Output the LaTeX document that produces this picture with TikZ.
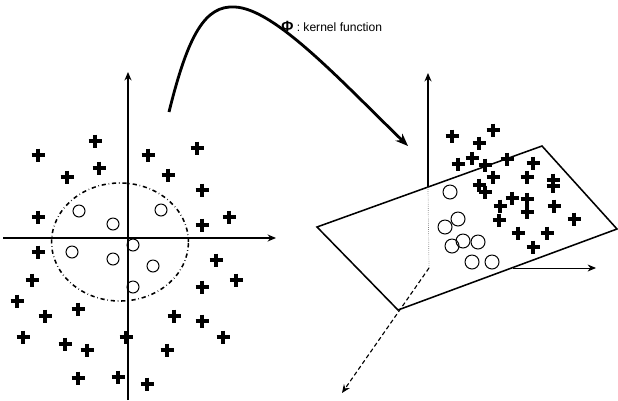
\documentclass[tikz,border=0pt]{standalone}
\usepackage{fontspec}
\setmainfont{Liberation Sans}
\usepackage{tikz}
\usetikzlibrary{arrows,arrows.meta,positioning,calc,shapes.geometric}
\tikzstyle{axis} = [line width=0.8pt,-{Stealth[length=6pt,width=5pt]}]
\tikzstyle{plusmark} = [line width=2.4pt]
\tikzstyle{ringmark} = [line width=0.7pt]
\tikzstyle{kernelarrow} = [line width=2pt,-{Stealth[length=9pt,width=7pt]}]
\newcommand{\plusat}[2]{\draw[plusmark] (#1-6.5,#2) -- (#1+6.5,#2) (#1,#2-6.5) -- (#1,#2+6.5);}

\begin{document}
\begin{tikzpicture}[x=0.025cm, y=-0.025cm]
    \useasboundingbox (0,0) rectangle (618,401);

    % Input space axes
    \coordinate (xl) at (3,238);
    \coordinate (xr) at (276,238);
    \coordinate (yb) at (128,400);
    \coordinate (yt) at (128,72);
    \draw[axis] (xl) -- (xr);
    \draw[axis] (yb) -- (yt);

    % Boundary
    \node[draw, dash dot, line width=1.1pt, ellipse, minimum width=3.42cm, minimum height=2.95cm, inner sep=0pt] (bound) at (120,242) {};

    % Class +1
    \foreach \px/\py in {95/141, 38/155, 148/155, 197/148, 67/177, 99/168, 168/175, 202/190,
        38/217, 202/225, 229/217, 38/252, 216/260, 32/280, 236/280, 17/301, 202/287,
        78/309, 45/316, 174/316, 202/321, 23/337, 126/337, 223/337, 65/344, 87/350,
        167/350, 78/378, 118/377, 147/384}
        {\plusat{\px}{\py}}

    % Class -1
    \foreach \px/\py in {79/211, 161/210, 113/224, 133/245, 72/252, 113/259, 153/266, 133/287}
        \draw[ringmark] (\px,\py) circle (6);

    % Feature space
    \coordinate (p1) at (317,227);
    \coordinate (p2) at (542,146);
    \coordinate (p3) at (617,229);
    \coordinate (p4) at (398,310);
    \draw[line width=1.1pt] (p1) -- (p2) -- (p3) -- (p4) -- cycle;

    \coordinate (zb) at (428,187);
    \coordinate (zt) at (428,73);
    \coordinate (o3) at (429,268);
    \coordinate (xe) at (342,393);
    \coordinate (ys) at (513,268);
    \coordinate (ye) at (596,268);
    \draw[axis] (zb) -- (zt);
    \draw[densely dotted, line width=0.5pt, gray] (zb) -- (o3);
    \draw[axis, densely dashed] (o3) -- (xe);
    \draw[axis, line width=0.6pt] (ys) -- (ye);

    \foreach \px/\py in {452/136, 493/130, 479/143, 458/164, 472/158, 485/165, 507/159,
        533/163, 493/177, 479/185, 485/192, 527/177, 553/180, 553/186, 512/198, 527/199,
        500/206, 527/212, 499/220, 554/206, 574/219, 518/233, 547/233, 533/247}
        {\plusat{\px}{\py}}

    \foreach \px/\py in {450/192, 445/227, 458/219, 452/246, 463/241, 478/242, 472/262, 492/262}
        \draw[ringmark] (\px,\py) circle (7);

    % Mapping
    \coordinate (ms) at (169,112);
    \coordinate (mt) at (408,146);
    \draw[kernelarrow] (ms) .. controls (188,35) and (205,5) .. (235,7)
        .. controls (275,9) and (340,80) .. (mt);
    \node[font=\fontsize{8.6}{9}\selectfont, anchor=west, inner sep=0pt] (phi) at (281,26) {{\fontsize{10.5}{10}\selectfont\textbf{Φ}} : kernel function};
\end{tikzpicture}
\end{document}
